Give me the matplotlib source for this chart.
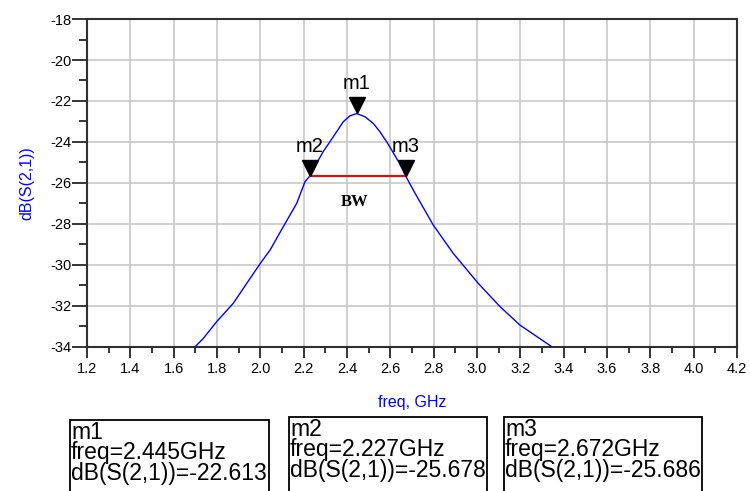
import matplotlib.pyplot as plt
from matplotlib.patches import Rectangle
from matplotlib.ticker import MultipleLocator, FormatStrFormatter
from matplotlib.transforms import offset_copy

plt.rcParams['font.family'] = ['Liberation Sans', 'DejaVu Sans']
plt.rcParams['axes.unicode_minus'] = False

# curve
freq = [1.698, 1.737, 1.798, 1.875, 1.937, 2.0, 2.045, 2.106, 2.168, 2.206,
        2.227, 2.259, 2.290, 2.321, 2.352, 2.383, 2.414, 2.445, 2.483, 2.521,
        2.552, 2.583, 2.606, 2.640, 2.672, 2.714, 2.798, 2.890, 3.006, 3.106,
        3.198, 3.344]
s21 = [-34.0, -33.58, -32.77, -31.87, -30.9, -29.92, -29.27, -28.13, -26.99, -25.94,
       -25.678, -25.05, -24.47, -23.99, -23.5, -23.01, -22.72, -22.613, -22.77, -23.09,
       -23.5, -23.99, -24.39, -25.0, -25.686, -26.5, -28.05, -29.43, -30.9, -32.03,
       -32.93, -33.98]

# markers
mk_names = ['m1', 'm2', 'm3']
mk_freq = [2.445, 2.227, 2.672]
mk_val = [-22.613, -25.678, -25.686]

fig = plt.figure(figsize=(7.5, 4.91), dpi=100)
ax = fig.add_axes([0.116, 0.2933, 0.8667, 0.668])

ax.plot(freq, s21, color='#0000ff', lw=1.0, zorder=3)
# bandwidth line between m2 and m3
ax.plot([mk_freq[1], mk_freq[2]], [mk_val[1], mk_val[1]], color='#ff0000', lw=1.5, zorder=3)
ax.text(2.437, -26.93, 'BW', family='Liberation Serif', fontweight='bold',
        fontsize=12, ha='center', va='center')

tri = offset_copy(ax.transData, fig=fig, y=6, units='points')
ax.plot(mk_freq, mk_val, ls='none', marker='v', markersize=12, color='black',
        transform=tri, zorder=4, clip_on=False)
for name, f, v in zip(mk_names, mk_freq, mk_val):
    ax.annotate(name, (f, v), xytext=(0, 14.5), textcoords='offset points',
                ha='center', va='bottom', fontsize=14.5)

ax.set_xlim(1.2, 4.2)
ax.set_ylim(-34, -18)
ax.xaxis.set_major_locator(MultipleLocator(0.2))
ax.xaxis.set_minor_locator(MultipleLocator(0.1))
ax.xaxis.set_major_formatter(FormatStrFormatter('%.1f'))
ax.yaxis.set_major_locator(MultipleLocator(2))
ax.yaxis.set_minor_locator(MultipleLocator(1))
ax.grid(True, which='major', color='#c8c8c8', lw=1.2, zorder=0)
ax.set_axisbelow(True)

ax.tick_params(axis='x', which='major', length=8, width=1.1, pad=3, labelsize=10.5)
ax.tick_params(axis='x', which='minor', length=4.5, width=1.1)
ax.tick_params(axis='y', which='major', length=11, width=1.1, pad=0, labelsize=10.5)
ax.tick_params(axis='y', which='minor', length=6, width=1.1)
for s in ax.spines.values():
    s.set_linewidth(1.5)
    s.set_color('#303030')

ax.set_xlabel('freq, GHz', color='#0000ff', fontsize=11.5)
ax.set_ylabel('dB(S(2,1))', color='#0000ff', fontsize=11.5)
ax.xaxis.set_label_coords(0.5, -0.168)
ax.xaxis.label.set_va('center')
ax.yaxis.set_label_coords(-0.092, 0.5)
ax.yaxis.label.set_va('center')

# marker readout boxes (pixel positions converted to figure fraction)
W, H = 750.0, 491.0
boxes = [(70, 269, 420), (289, 487, 417), (504, 702, 417)]
for (x0, x1, top), name, f, v in zip(boxes, mk_names, mk_freq, mk_val):
    fig.patches.append(Rectangle((x0 / W, -0.1), (x1 - x0) / W, 1.1 - top / H,
                                 transform=fig.transFigure, fill=True,
                                 facecolor='white', edgecolor='black', lw=1.3))
    txt = '\n'.join([name, 'freq=%.3fGHz' % f, 'dB(S(2,1))=%.3f' % v])
    fig.text((x0 + 1) / W, 1 - (top + 1) / H, txt, fontsize=16.5,
             ha='left', va='top', linespacing=0.85)

fig.savefig('out.png', dpi=100)
